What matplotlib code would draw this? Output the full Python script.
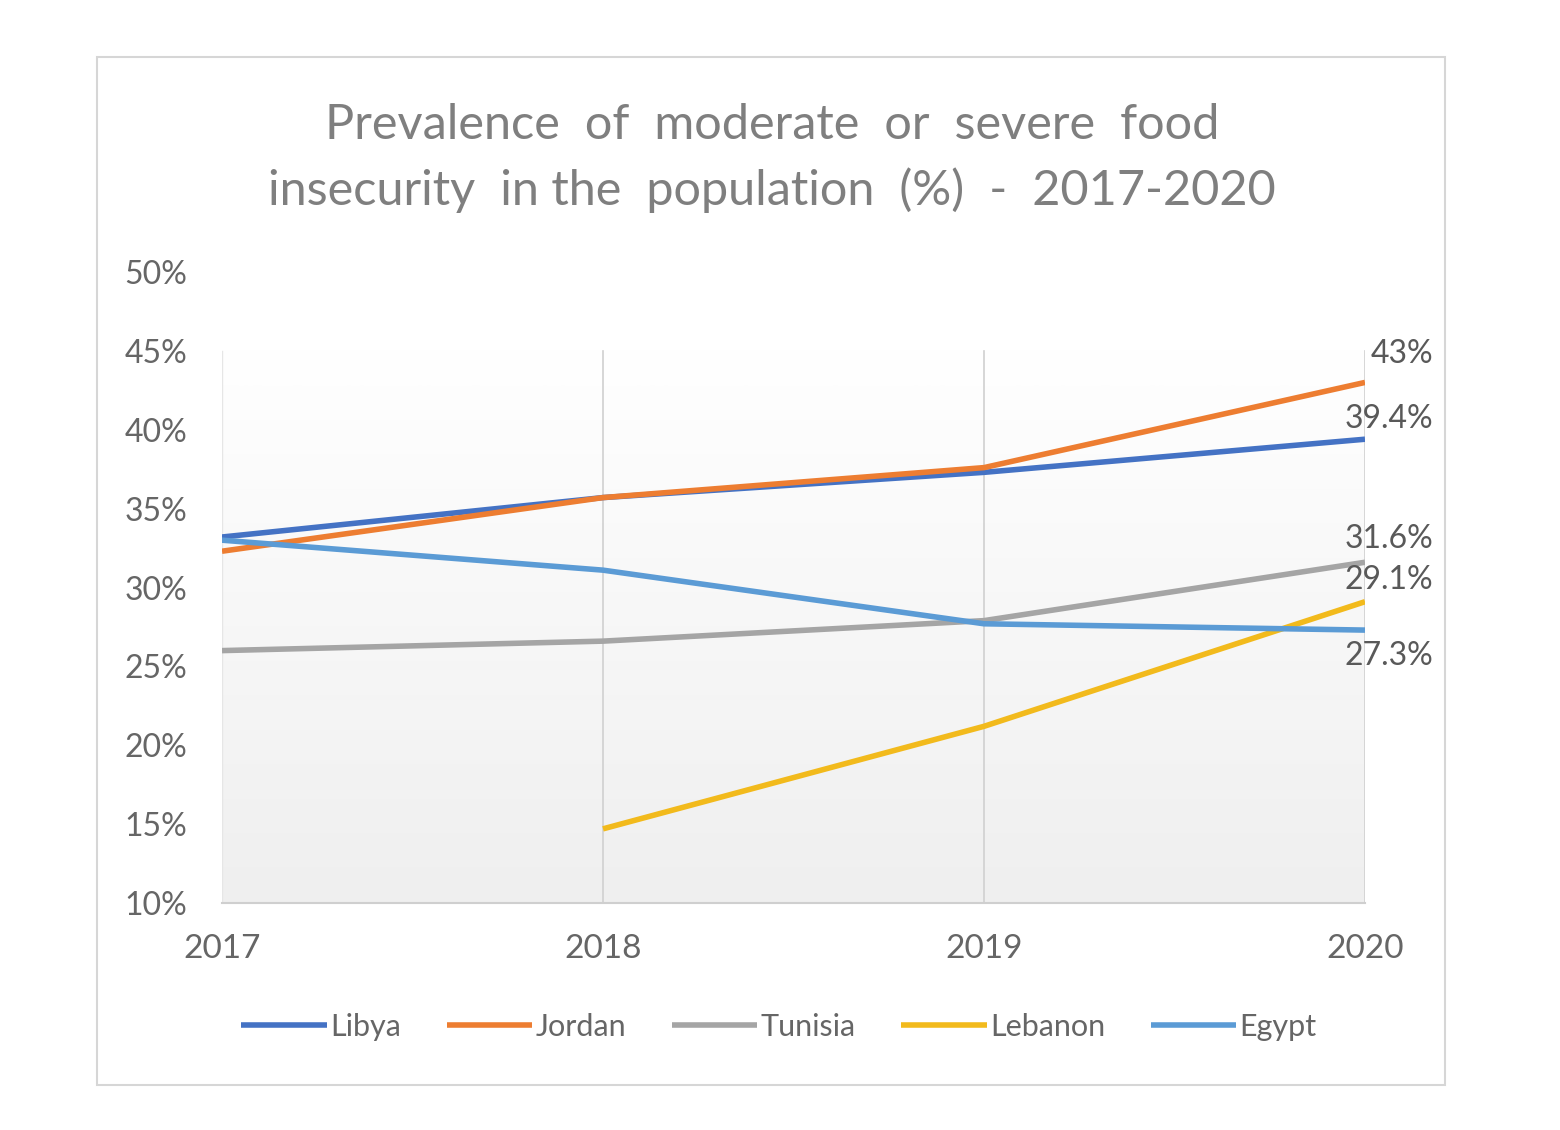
import matplotlib.pyplot as plt
import numpy as np
from matplotlib.patches import Rectangle

plt.rcParams['font.family'] = ['Lato', 'DejaVu Sans']

# data (percent)
years = [2017, 2018, 2019, 2020]
libya = [33.2, 35.7, 37.3, 39.4]
jordan = [32.3, 35.7, 37.6, 43.0]
tunisia = [26.0, 26.6, 27.9, 31.6]
lebanon = [np.nan, 14.7, 21.2, 29.1]
egypt = [33.0, 31.1, 27.7, 27.3]
end_labels = ["39.4%", "43%", "31.6%", "29.1%", "27.3%"]

names = ["Libya", "Jordan", "Tunisia", "Lebanon", "Egypt"]
series = [libya, jordan, tunisia, lebanon, egypt]
colors = ["#4472C4", "#ED7D31", "#A5A5A5", "#F2BA1C", "#5B9BD5"]
# pixel offsets of the end labels (dy up positive)
label_dy = [20, 28, 23, 22, -26]

fig = plt.figure(figsize=(15.6, 11.3), dpi=100)
fig.patch.set_facecolor("white")

# outer chart border
fig.patches.append(Rectangle((97 / 1560, 1 - 1085 / 1130), (1445 - 97) / 1560, (1085 - 57) / 1130,
                             transform=fig.transFigure, fill=False, edgecolor="#d6d6d6", linewidth=1.5))

ax = fig.add_axes([222 / 1560, 1 - 903 / 1130, (1365 - 222) / 1560, (903 - 272) / 1130])
ax.set_xlim(2017, 2020)
ax.set_ylim(10, 50)

# gradient plot area background
grad = np.linspace(0, 1, 256).reshape(-1, 1)
ax.imshow(grad, extent=[2017, 2020, 10, 45], aspect="auto", origin="upper",
          cmap=plt.matplotlib.colors.LinearSegmentedColormap.from_list("g", ["#ffffff", "#efefef"]),
          zorder=0, interpolation="bicubic")

for x in years[1:]:
    ax.plot([x, x], [10, 45], color="#d0d0d0", linewidth=1.2, zorder=1)
ax.plot([2017, 2017], [10, 45], color="#e6e6e6", linewidth=1.0, zorder=1)

for name, vals, c in zip(names, series, colors):
    ax.plot(years, vals, color=c, linewidth=4.0, label=name, zorder=3, solid_capstyle="butt")

for vals, lab, dy in zip(series, end_labels, label_dy):
    ax.annotate(lab, xy=(2020, vals[-1]), xytext=(68 * 0.72, dy * 0.72), textcoords="offset points",
                ha="right", va="center", fontsize=23, color="#595959", annotation_clip=False)

for s in ["top", "right", "left"]:
    ax.spines[s].set_visible(False)
ax.spines["bottom"].set_color("#cfcfcf")
ax.spines["bottom"].set_linewidth(1.5)

yt = np.arange(10, 51, 5)
ax.set_yticks(yt)
ax.set_yticklabels([f"{v}%" for v in yt])
ax.set_xticks(years)
ax.set_xticklabels([str(y) for y in years])
ax.tick_params(axis="both", length=0, labelcolor="#666666")
ax.tick_params(axis="y", pad=25, labelsize=23)
ax.tick_params(axis="x", pad=22, labelsize=24)

fig.text(772 / 1560, 1 - 125 / 1130, "Prevalence  of  moderate  or  severe  food",
         ha="center", va="center", fontsize=35, color="#7f7f7f")
fig.text(772 / 1560, 1 - 190 / 1130, "insecurity  in the  population  (%)  -  2017-2020",
         ha="center", va="center", fontsize=35, color="#7f7f7f")

fig.legend(loc="center", bbox_to_anchor=(779 / 1560, 1 - 1027 / 1130), ncol=5, frameon=False,
           fontsize=22, labelcolor="#666666", handlelength=2.8, handletextpad=0.1, columnspacing=1.5)

fig.savefig("out.png", dpi=100)
